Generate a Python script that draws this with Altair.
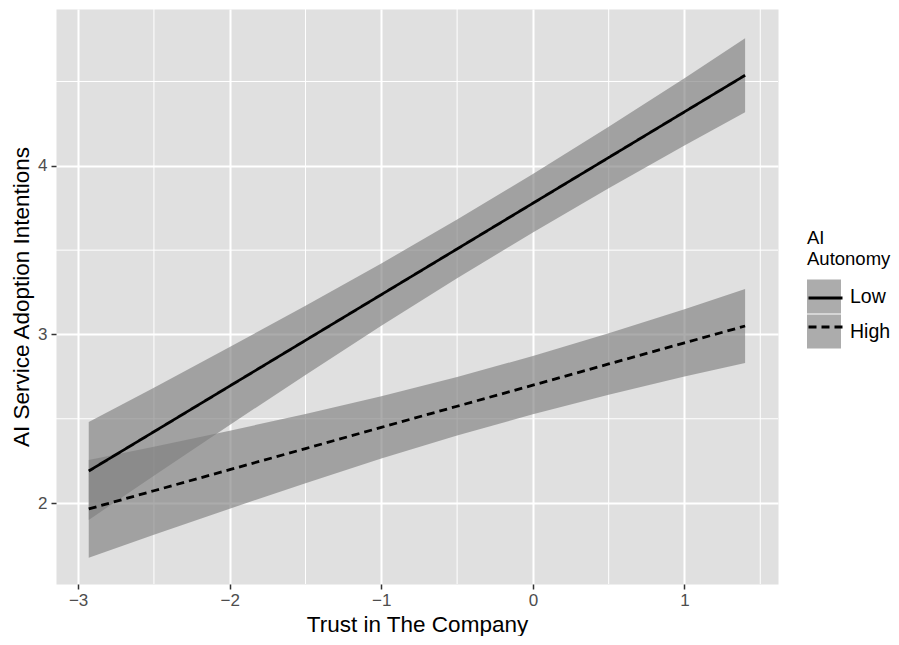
import altair as alt
import pandas as pd

# ---- data ----
trust = [-2.93, -2.5, -2.0, -1.5, -1.0, -0.5, 0.0, 0.5, 1.0, 1.40]

low_fit = [2.19, 2.423, 2.694, 2.965, 3.236, 3.507, 3.778, 4.049, 4.320, 4.537]
low_upper = [2.48, 2.684, 2.925, 3.17, 3.421, 3.681, 3.951, 4.231, 4.52, 4.757]
low_lower = [1.90, 2.162, 2.463, 2.76, 3.051, 3.333, 3.605, 3.867, 4.12, 4.317]

high_fit = [1.965, 2.073, 2.198, 2.323, 2.449, 2.574, 2.699, 2.825, 2.950, 3.050]
high_upper = [2.255, 2.334, 2.429, 2.528, 2.634, 2.748, 2.872, 3.007, 3.15, 3.27]
high_lower = [1.675, 1.812, 1.967, 2.118, 2.264, 2.40, 2.526, 2.643, 2.75, 2.83]

groups = ["Low", "High"]

x_ticks = [-3, -2, -1, 0, 1]
y_ticks = [2, 3, 4]
x_minor = [-2.5, -1.5, -0.5, 0.5, 1.5]
y_minor = [2.5, 3.5, 4.5]

x_domain = [-3.146, 1.617]
y_domain = [1.52, 4.93]

rows = []
for g, fit, lo, up in [("Low", low_fit, low_lower, low_upper),
                       ("High", high_fit, high_lower, high_upper)]:
    for t, f, l, u in zip(trust, fit, lo, up):
        rows.append({"trust": t, "fit": f, "lower": l, "upper": u,
                     "grp": g, "grp_fill": g})
df = pd.DataFrame(rows)

W, H = 722, 575
FONT = "Liberation Sans"

x_scale = alt.Scale(domain=x_domain, nice=False, zero=False)
y_scale = alt.Scale(domain=y_domain, nice=False, zero=False)

x_axis = alt.Axis(title="Trust in The Company", values=x_ticks, grid=True,
                  gridColor="white", gridWidth=2, domain=False,
                  tickColor="#333333", tickSize=5, tickWidth=1.5,
                  labelColor="#4d4d4d", labelFontSize=17, labelPadding=3,
                  titleFontSize=22.5, titleColor="black", titleFontWeight="normal",
                  titlePadding=5)
y_axis = alt.Axis(title="AI Service Adoption Intentions", values=y_ticks, grid=True,
                  gridColor="white", gridWidth=2, domain=False,
                  tickColor="#333333", tickSize=5, tickWidth=1.5,
                  labelColor="#4d4d4d", labelFontSize=17, labelPadding=4,
                  titleFontSize=22.5, titleColor="black", titleFontWeight="normal",
                  titlePadding=4)

minor_x = alt.Chart(pd.DataFrame({"v": x_minor})).mark_rule(
    color="white", strokeWidth=1).encode(x=alt.X("v:Q", scale=x_scale, axis=x_axis))
minor_y = alt.Chart(pd.DataFrame({"v": y_minor})).mark_rule(
    color="white", strokeWidth=1).encode(y=alt.Y("v:Q", scale=y_scale, axis=y_axis))

LX, LY = W + 29, 220


def legend_props(**kw):
    base = dict(title=["AI", "Autonomy"], orient="none", legendX=LX, legendY=LY,
                symbolSize=1156, labelFontSize=19.5, titleFontSize=18.5,
                titleFontWeight="normal", titlePadding=11, labelOffset=9,
                rowPadding=1, titleLineHeight=21)
    base.update(kw)
    return alt.Legend(**base)


bands = alt.Chart(df).mark_area(opacity=0.65).encode(
    x=alt.X("trust:Q", scale=x_scale, axis=x_axis),
    y=alt.Y("lower:Q", scale=y_scale, axis=y_axis),
    y2="upper:Q",
    fill=alt.Fill("grp_fill:N", sort=groups,
                  scale=alt.Scale(range=["#7f7f7f", "#7f7f7f"]),
                  legend=legend_props(symbolType="square", symbolStrokeWidth=0,
                                      symbolOpacity=0.65, labelColor="black",
                                      titleColor="black")),
)

lines = alt.Chart(df).mark_line(color="black", strokeWidth=2.8).encode(
    x=alt.X("trust:Q", scale=x_scale, axis=x_axis),
    y=alt.Y("fit:Q", scale=y_scale, axis=y_axis),
    strokeDash=alt.StrokeDash("grp:N",
                              scale=alt.Scale(domain=groups, range=[[1, 0], [8, 5]]),
                              legend=legend_props(symbolType="stroke",
                                                  symbolStrokeWidth=2.8,
                                                  symbolStrokeColor="black",
                                                  labelExpr="''", titleOpacity=0)),
)

chart = alt.layer(minor_x, minor_y, bands, lines).properties(
    width=W, height=H,
    padding={"left": 2, "top": 0, "right": 0, "bottom": 0},
    background="white",
).resolve_legend(
    fill="independent", strokeDash="independent"
).configure_view(
    fill="#e0e0e0", stroke="transparent"
).configure_axis(
    labelFont=FONT, titleFont=FONT
).configure_legend(
    labelFont=FONT, titleFont=FONT
)

chart.save("out.html", embed_options={"renderer": "svg", "actions": False})
